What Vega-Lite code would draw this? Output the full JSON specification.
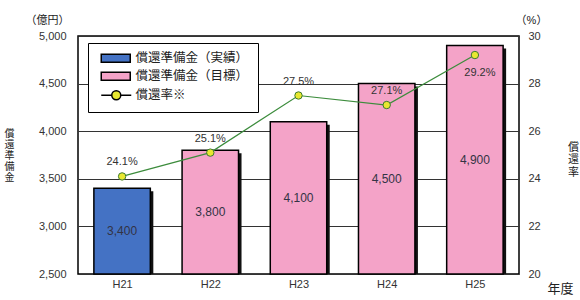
{
  "$schema": "https://vega.github.io/schema/vega-lite/v6.json",
  "width": 441,
  "height": 238,
  "autosize": {"type": "none"},
  "padding": {"left": 78, "top": 36, "right": 61, "bottom": 26},
  "background": "#ffffff",
  "config": {
    "font": "Liberation Sans, Noto Sans CJK JP",
    "view": {"stroke": "#000000", "strokeWidth": 1.5},
    "axis": {"labelColor": "#333333", "labelFontSize": 11, "titleColor": "#222222", "titleFontWeight": "normal"}
  },
  "data": {
    "values": [
      {"year": "H21", "value": 3400, "rate": 24.1, "kind": "償還準備金（実績）", "ratelabel": "24.1%"},
      {"year": "H22", "value": 3800, "rate": 25.1, "kind": "償還準備金（目標）", "ratelabel": "25.1%"},
      {"year": "H23", "value": 4100, "rate": 27.5, "kind": "償還準備金（目標）", "ratelabel": "27.5%"},
      {"year": "H24", "value": 4500, "rate": 27.1, "kind": "償還準備金（目標）", "ratelabel": "27.1%"},
      {"year": "H25", "value": 4900, "rate": 29.2, "kind": "償還準備金（目標）", "ratelabel": "29.2%"}
    ]
  },
  "encoding": {
    "x": {
      "field": "year", "type": "nominal",
      "scale": {"paddingInner": 0.36, "paddingOuter": 0.18},
      "axis": {
        "title": "年度", "labelAngle": 0, "labelPadding": 8, "labelFontSize": 11,
        "domain": false, "ticks": true, "tickBand": "extent", "tickSize": -4, "tickColor": "#333333",
        "titleX": 482, "titleY": 14, "titleAlign": "center", "titleBaseline": "middle", "titleFontSize": 13
      }
    }
  },
  "layer": [
    {
      "mark": {"type": "bar", "fill": "#111111", "xOffset": 3, "yOffset": 3, "clip": true},
      "encoding": {
        "y": {
          "field": "value", "type": "quantitative",
          "scale": {"domain": [2500, 5000], "nice": false, "zero": false},
          "axis": {
            "orient": "left", "labels": false, "ticks": false, "domain": false, "grid": false,
            "title": ["償", "還", "準", "備", "金"], "titleAngle": 0, "titleX": -69, "titleY": 97,
            "titleAlign": "center", "titleBaseline": "middle", "titleFontSize": 10, "titleLineHeight": 11
          }
        },
        "y2": {"datum": 2500}
      }
    },
    {
      "mark": {"type": "bar", "stroke": "#000000", "strokeWidth": 1.5},
      "encoding": {
        "y": {
          "field": "value", "type": "quantitative",
          "scale": {"domain": [2500, 5000], "nice": false, "zero": false},
          "axis": {
            "orient": "left", "values": [2500, 3000, 3500, 4000, 4500, 5000], "format": ",.0f",
            "grid": true, "gridColor": "#333333", "gridWidth": 1, "ticks": false, "domain": false,
            "labelPadding": 12,
            "title": "（億円）", "titleAngle": 0, "titleX": -31, "titleY": -16,
            "titleAlign": "center", "titleBaseline": "middle", "titleFontSize": 11
          }
        },
        "y2": {"datum": 2500},
        "color": {
          "field": "kind", "type": "nominal",
          "scale": {
            "domain": ["償還準備金（実績）", "償還準備金（目標）", "償還率※"],
            "range": ["#4472c4", "#f4a3c8", "#e8e830"]
          },
          "legend": {
            "orient": "none", "legendX": 10, "legendY": 7, "title": null, "direction": "vertical",
            "fillColor": "#ffffff", "strokeColor": "#000000", "padding": 9, "rowPadding": 3,
            "labelFontSize": 12.5, "labelColor": "#222222", "symbolSize": 100, "labelOffset": 23, "symbolOffset": 3,
            "symbolType": {"expr": "datum.value === '償還率※' ? 'M-1,0H1.1M2.9,0H5M2.9,0A0.9,0.9 0 1 1 1.1,0A0.9,0.9 0 1 1 2.9,0Z' : 'M-1,-0.8H4.8V0.8H-1Z'"},
            "encode": {
              "legend": {"update": {"strokeWidth": {"value": 1.5}}},
              "symbols": {
                "update": {
                  "shape": {"signal": "datum.value === '償還率※' ? 'M-1,0H1.1M2.9,0H5M2.9,0A0.9,0.9 0 1 1 1.1,0A0.9,0.9 0 1 1 2.9,0Z' : 'M-1,-0.8H4.8V0.8H-1Z'"},
                  "stroke": {"signal": "datum.value === '償還率※' ? '#3c8c3c' : '#000000'"},
                  "strokeWidth": {"signal": "datum.value === '償還率※' ? 1.2 : 1.5"},
                  "opacity": {"value": 1},
                  "fillOpacity": {"value": 1}
                }
              }
            }
          }
        }
      }
    },
    {
      "mark": {"type": "text", "fontSize": 12, "color": "#333344", "baseline": "middle"},
      "encoding": {
        "y": {
          "field": "value", "type": "quantitative",
          "scale": {"domain": [2500, 7500], "nice": false, "zero": false},
          "axis": null
        },
        "text": {"field": "value", "type": "quantitative", "format": ",.0f"}
      }
    },
    {
      "encoding": {
        "y": {
          "field": "rate", "type": "quantitative",
          "scale": {"domain": [20, 30], "nice": false, "zero": false},
          "axis": {
            "orient": "right", "values": [20, 22, 24, 26, 28, 30], "grid": false, "ticks": false, "domain": false,
            "labelPadding": 9,
            "title": "（%）", "titleAngle": 0, "titleX": 12, "titleY": -16,
            "titleAlign": "center", "titleBaseline": "middle", "titleFontSize": 11
          }
        }
      },
      "layer": [
        {
          "mark": {"type": "line", "strokeWidth": 1.2, "stroke": "#3c8c3c"}
        },
        {
          "mark": {"type": "point", "filled": true, "stroke": "#3c7a30", "strokeWidth": 1, "size": 55, "opacity": 1},
          "encoding": {
            "color": {
              "datum": "償還率※",
              "legend": {
                "orient": "none", "legendX": 10, "legendY": 7, "title": null, "direction": "vertical",
                "fillColor": "#ffffff", "strokeColor": "#000000", "padding": 9, "rowPadding": 3,
                "labelFontSize": 12.5, "labelColor": "#222222", "symbolSize": 100, "labelOffset": 23, "symbolOffset": 3,
                "symbolType": {"expr": "datum.value === '償還率※' ? 'M-1,0H1.1M2.9,0H5M2.9,0A0.9,0.9 0 1 1 1.1,0A0.9,0.9 0 1 1 2.9,0Z' : 'M-1,-0.8H4.8V0.8H-1Z'"},
                "encode": {
                  "legend": {"update": {"strokeWidth": {"value": 1.5}}},
                  "symbols": {
                    "update": {
                      "shape": {"signal": "datum.value === '償還率※' ? 'M-1,0H1.1M2.9,0H5M2.9,0A0.9,0.9 0 1 1 1.1,0A0.9,0.9 0 1 1 2.9,0Z' : 'M-1,-0.8H4.8V0.8H-1Z'"},
                      "stroke": {"signal": "datum.value === '償還率※' ? '#3c8c3c' : '#000000'"},
                      "strokeWidth": {"signal": "datum.value === '償還率※' ? 1.2 : 1.5"},
                      "opacity": {"value": 1},
                      "fillOpacity": {"value": 1}
                    }
                  }
                }
              }
            }
          }
        },
        {
          "transform": [{"filter": "datum.year !== 'H25'"}],
          "mark": {"type": "text", "fontSize": 11, "color": "#333333", "dy": -14},
          "encoding": {"text": {"field": "ratelabel", "type": "nominal"}}
        }
      ]
    },
    {
      "transform": [{"filter": "datum.year === 'H25'"}],
      "mark": {"type": "text", "fontSize": 11, "color": "#333333", "dy": 18, "dx": 5},
      "encoding": {
        "y": {
          "field": "rate", "type": "quantitative",
          "scale": {"domain": [20, 30], "nice": false, "zero": false},
          "axis": {
            "orient": "right", "labels": false, "ticks": false, "domain": false, "grid": false,
            "title": ["償", "還", "率"], "titleAngle": 0, "titleX": 54, "titleY": 111,
            "titleAlign": "center", "titleBaseline": "middle", "titleFontSize": 11, "titleLineHeight": 12.5
          }
        },
        "text": {"field": "ratelabel", "type": "nominal"}
      }
    }
  ],
  "resolve": {"scale": {"y": "independent"}}
}
